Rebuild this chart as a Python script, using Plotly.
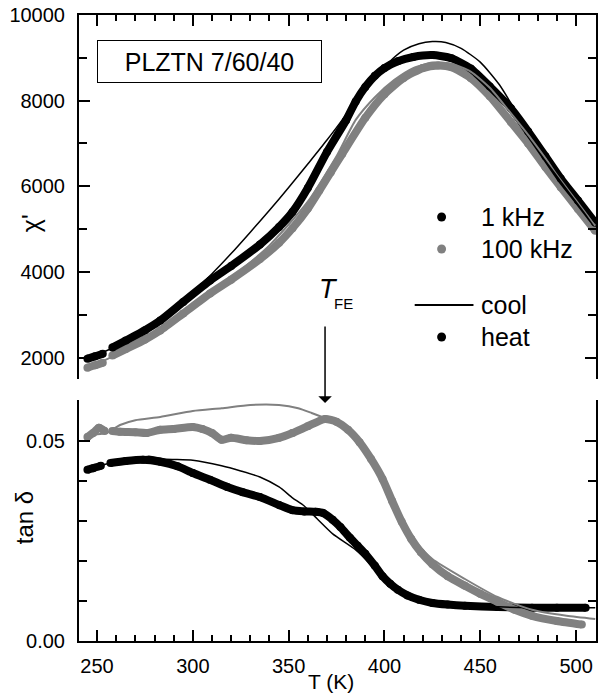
import plotly.graph_objects as go

# ---------------- data: top panel (chi') ----------------
t_chi_1k_heat = [245, 249, 253, None, 258, 265, 275, 283, 295, 309, 320, 335, 345, 352, 360, 370, 380,
                 385, 390, 395, 400, 407, 415, 425, 435, 445, 455, 466, 475, 484, 492, 501, 510]
chi_1k_heat = [1975, 2030, 2090, None, 2234, 2400, 2640, 2865, 3300, 3800, 4140, 4640, 5050, 5400, 5960, 6800, 7544,
               7980, 8320, 8580, 8760, 8920, 9020, 9064, 8990, 8750, 8330, 7820, 7280, 6700, 6180, 5670, 5150]

t_chi_100k_heat = [245, 249, 253, None, 258, 265, 275, 283, 295, 309, 320, 335, 345, 352, 360, 366, 372, 378,
                   390, 400, 410, 420, 428, 435, 445, 455, 466, 475, 484, 492, 501, 510]
chi_100k_heat = [1766, 1820, 1880, None, 2047, 2200, 2420, 2632, 3030, 3497, 3820, 4300, 4680, 5020, 5480, 5900, 6330, 6760,
                 7600, 8150, 8530, 8760, 8820, 8780, 8530, 8100, 7500, 7000, 6450, 5980, 5470, 4960]

t_chi_1k_cool = [245, 260, 270, 280, 290, 300, 310, 320, 330, 340, 350, 360, 370, 380, 387, 392, 397, 402, 410,
                 418, 425, 432, 440, 450, 460, 470, 480, 490, 500, 510]
chi_1k_cool = [1990, 2260, 2530, 2830, 3170, 3540, 3960, 4430, 4930, 5440, 5970, 6520, 7080, 7680, 8200, 8480, 8620, 8880, 9180,
               9330, 9380, 9360, 9220, 8900, 8370, 7650, 7020, 6330, 5740, 5140]

t_chi_100k_cool = [245, 260, 280, 300, 320, 340, 360, 375, 385, 395, 405, 415, 425, 435, 445, 455, 465, 475, 485, 495,
                   505, 510]
chi_100k_cool = [1780, 2060, 2570, 3180, 3860, 4620, 5640, 6700, 7550, 8080, 8480, 8760, 8890, 8860, 8680, 8300, 7760,
                 7200, 6600, 6000, 5400, 5080]

# ---------------- data: bottom panel (tan delta) ----------------
t_tan_1k_heat = [245, 248, 252, None, 257, 265, 274, 283, 292, 300, 309, 318, 326, 335, 345, 352, 358, 364, 368, 373,
                 377, 382, 386, 390, 395, 399, 403, 407, 412, 418, 425, 433, 442, 459, 477, 490, 505]
tan_1k_heat = [.0428, .0432, .0438, None, .0445, .0450, .0453, .0448, .0437, .0420, .0403, .0385, .0372, .0360, .0340,
               .0327, .0324, .0323, .0320, .0303, .0285, .0258, .0238, .0218, .0188, .0162, .0143, .0128, .0114, .0103,
               .0095, .0091, .0088, .0085, .0083, .0083, .0083]

t_tan_100k_heat = [245, 248, 251, 254, None, 258, 262, 270, 276, 283, 290, 300, 305, 310, 315, 320, 328, 335, 345, 352,
                   360, 369, 375, 381, 387, 393, 399, 404, 409, 414, 419, 425, 433, 442, 450, 459, 468, 477, 490, 503]
tan_100k_heat = [.0510, .0520, .0533, .0525, None, .0525, .0523, .0522, .0520, .0528, .0530, .0535, .0530, .0520, .0503,
                 .0508, .0502, .0500, .0508, .0520, .0537, .0555, .0548, .0528, .0497, .0455, .0405, .0350, .0298, .0255,
                 .0222, .0192, .0162, .0138, .0118, .0098, .0078, .0063, .0050, .0041]

t_tan_1k_cool = [245, 260, 270, 277, 285, 300, 315, 325, 335, 345, 352, 358, 365, 373, 385, 392, 400, 410, 425, 445, 470, 510]
tan_1k_cool = [.0430, .0448, .0453, .0462, .0455, .0452, .0438, .0425, .0410, .0385, .0358, .0338, .0305, .0268, .0228,
               .0195, .0150, .0118, .0096, .0088, .0084, .0083]

t_tan_100k_cool = [245, 255, 262, 270, 283, 300, 315, 330, 345, 355, 362, 370, 378, 388, 398, 407, 416, 425, 442, 459,
                   477, 495, 510]
tan_100k_cool = [.0515, .0520, .0540, .0552, .0560, .0575, .0582, .0590, .0590, .0582, .0570, .0555, .0535, .0495, .0420,
                 .0325, .0250, .0205, .0155, .0110, .0078, .0063, .0055]

BLACK = "#000000"
GRAY = "#808080"
FONT = "Liberation Sans, Arial, sans-serif"

fig = go.Figure()


def heat(x, y, color, xa, ya):
    fig.add_trace(go.Scatter(x=x, y=y, mode="lines+markers", xaxis=xa, yaxis=ya,
                             line=dict(color=color, width=8, shape="spline", smoothing=0.6),
                             marker=dict(color=color, size=8),
                             connectgaps=False, showlegend=False, hoverinfo="skip"))


def cool(x, y, color, width, xa, ya):
    fig.add_trace(go.Scatter(x=x, y=y, mode="lines", xaxis=xa, yaxis=ya,
                             line=dict(color=color, width=width, shape="spline", smoothing=0.6),
                             showlegend=False, hoverinfo="skip"))


heat(t_chi_100k_heat, chi_100k_heat, GRAY, "x", "y")
heat(t_chi_1k_heat, chi_1k_heat, BLACK, "x", "y")
cool(t_chi_100k_cool, chi_100k_cool, GRAY, 2, "x", "y")
cool(t_chi_1k_cool, chi_1k_cool, BLACK, 1.5, "x", "y")

heat(t_tan_1k_heat, tan_1k_heat, BLACK, "x2", "y2")
heat(t_tan_100k_heat, tan_100k_heat, GRAY, "x2", "y2")
cool(t_tan_1k_cool, tan_1k_cool, BLACK, 1.5, "x2", "y2")
cool(t_tan_100k_cool, tan_100k_cool, GRAY, 2, "x2", "y2")

XR = [240.6, 510.4]
common_x = dict(range=XR, showline=True, linecolor=BLACK, linewidth=2, ticks="inside", ticklen=11,
                tickwidth=1.5, tickcolor=BLACK, dtick=50, tick0=250, showgrid=False, zeroline=False,
                minor=dict(ticks="inside", ticklen=6, tickwidth=1.5, tickcolor=BLACK, dtick=10, tick0=250, showgrid=False))

fig.update_layout(
    width=600, height=694,
    margin=dict(l=79, r=2, t=15, b=53),
    paper_bgcolor="white", plot_bgcolor="white",
    font=dict(family=FONT, color=BLACK, size=20),
    xaxis=dict(common_x, anchor="y", side="top", showticklabels=False),
    yaxis=dict(domain=[0.4185, 1], range=[1500, 10000], anchor="x", showline=True, mirror="ticks",
               linecolor=BLACK, linewidth=2, ticks="inside", ticklen=11, tickwidth=1.5, tickcolor=BLACK,
               dtick=2000, tick0=2000, tickformat="d", showgrid=False, zeroline=False, ticklabelstandoff=8,
               tickfont=dict(size=20),
               minor=dict(ticks="inside", ticklen=8, tickwidth=1.5, tickcolor=BLACK, dtick=1000, tick0=2000, showgrid=False)),
    xaxis2=dict(common_x, anchor="y2", side="bottom", showticklabels=True, ticklabelstandoff=6,
                tickfont=dict(size=20)),
    yaxis2=dict(domain=[0, 0.385], range=[0, 0.06025], anchor="x2", showline=True, mirror="ticks",
                linecolor=BLACK, linewidth=2, ticks="inside", ticklen=11, tickwidth=1.5, tickcolor=BLACK,
                dtick=0.05, tick0=0, tickformat=".2f", showgrid=False, zeroline=False, ticklabelstandoff=8,
                tickfont=dict(size=20),
                minor=dict(ticks="inside", ticklen=8, tickwidth=1.5, tickcolor=BLACK, dtick=0.01, tick0=0, showgrid=False)),
)


def px2paper(px, py):
    return (px - 79) / 519.0, (641 - py) / 626.0


anns = []
# axis titles
x, y = px2paper(332, 681)
anns.append(dict(x=x, y=y, xref="paper", yref="paper", text="T (K)", showarrow=False,
                 font=dict(size=21), xanchor="center", yanchor="middle"))
x, y = px2paper(31, 223)
anns.append(dict(x=x, y=y, xref="paper", yref="paper", text="χ'", showarrow=False, textangle=-90,
                 font=dict(size=25), xanchor="center", yanchor="middle"))
x, y = px2paper(24, 518)
anns.append(dict(x=x, y=y, xref="paper", yref="paper", text="tan δ", showarrow=False, textangle=-90,
                 font=dict(size=24), xanchor="center", yanchor="middle"))
# sample box
x, y = px2paper(210.5, 61.5)
anns.append(dict(x=x, y=y, xref="paper", yref="paper", text="PLZTN 7/60/40", showarrow=False,
                 font=dict(size=25), width=221, height=39, borderpad=1, bordercolor=BLACK, borderwidth=1,
                 bgcolor="white", xanchor="center", yanchor="middle", align="center", valign="middle"))
# T_FE label and arrow
x, y = px2paper(329, 289)
anns.append(dict(x=x, y=y, xref="paper", yref="paper", text="<i>T</i>", showarrow=False,
                 font=dict(size=27), xanchor="center", yanchor="middle"))
x, y = px2paper(345, 304)
anns.append(dict(x=x, y=y, xref="paper", yref="paper", text="FE", showarrow=False,
                 font=dict(size=15), xanchor="center", yanchor="middle"))
anns.append(dict(x=369, y=0.0595, xref="x2", yref="y2", text="", showarrow=True, ax=0, ay=-78,
                 arrowhead=1, arrowsize=1.5, arrowwidth=1.5, arrowcolor=BLACK))
# legend text
legend_items = [("1 kHz", 217), ("100 kHz", 249), ("cool", 305), ("heat", 337)]
for txt, py in legend_items:
    x, y = px2paper(481, py)
    anns.append(dict(x=x, y=y, xref="paper", yref="paper", text=txt, showarrow=False,
                     font=dict(size=25), xanchor="left", yanchor="middle"))
fig.update_layout(annotations=anns)

# legend symbols
shapes = []
r = 4.5
for color, py in [(BLACK, 217), (GRAY, 249), (BLACK, 337)]:
    x0, y0 = px2paper(443 - r, py + r)
    x1, y1 = px2paper(443 + r, py - r)
    shapes.append(dict(type="circle", xref="paper", yref="paper", x0=x0, y0=y0, x1=x1, y1=y1,
                       fillcolor=color, line=dict(color=color, width=0)))
x0, y0 = px2paper(416, 305)
x1, _ = px2paper(475, 305)
shapes.append(dict(type="line", xref="paper", yref="paper", x0=x0, y0=y0, x1=x1, y1=y0,
                   line=dict(color=BLACK, width=2)))
fig.update_layout(shapes=shapes)

fig.write_html("out.html")
